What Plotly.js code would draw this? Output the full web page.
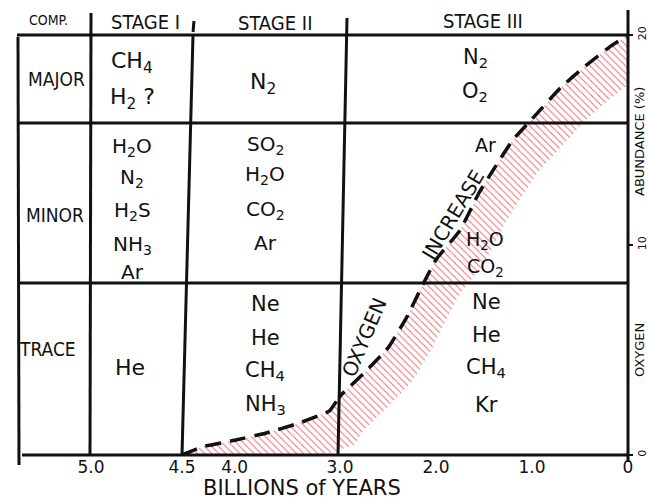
<!DOCTYPE html>
<html>
<head>
<meta charset="utf-8">
<script src="https://cdn.plot.ly/plotly-3.0.1.min.js"></script>
<style>
  html, body { margin: 0; padding: 0; background: #ffffff; }
  #chart { width: 648px; height: 501px; }
</style>
</head>
<body>
<div id="chart"></div>
<script>
// Evolution of the atmosphere: composition table by stage, with the oxygen curve

// ---- data ----
const stageNames = ['STAGE I', 'STAGE II', 'STAGE III'];
const rowNames = ['MAJOR', 'MINOR', 'TRACE'];

const stage1Major = ['CH<sub>4</sub>', 'H<sub>2</sub> ?'];
const stage1Minor = ['H<sub>2</sub>O', 'N<sub>2</sub>', 'H<sub>2</sub>S', 'NH<sub>3</sub>', 'Ar'];
const stage1Trace = ['He'];

const stage2Major = ['N<sub>2</sub>'];
const stage2Minor = ['SO<sub>2</sub>', 'H<sub>2</sub>O', 'CO<sub>2</sub>', 'Ar'];
const stage2Trace = ['Ne', 'He', 'CH<sub>4</sub>', 'NH<sub>3</sub>'];

const stage3Major = ['N<sub>2</sub>', 'O<sub>2</sub>'];
const stage3Minor = ['Ar', 'H<sub>2</sub>O', 'CO<sub>2</sub>'];
const stage3Trace = ['Ne', 'He', 'CH<sub>4</sub>', 'Kr'];

// oxygen abundance (%) against age (billions of years before present)
const ageGyr    = [4.5, 4.3, 4.0, 3.7, 3.4, 3.1, 3.0, 2.75, 2.5, 2.3, 2.15, 2.0, 1.75, 1.55, 1.4, 1.2, 1.0, 0.7, 0.45, 0.2, 0.0];
const oxygenPct = [0, 0.4, 0.7, 1.05, 1.5, 2.1, 2.8, 3.9, 5.1, 6.6, 8.0, 9.3, 10.7, 12.5, 13.6, 15.0, 16.0, 17.5, 18.5, 19.4, 20.0];

// x tick labels for each stage's axis segment
const stage1Ticks = [5.0];
const stage2Ticks = [4.5, 4.0];
const stage3Ticks = [3.0, 2.0, 1.0, 0];
const oxygenTicks = [0, 10, 20];

// ---- layout helpers (pixel frame of the plotting area) ----
const FRAME = { l: 20, r: 628, t: 35, b: 455 };
const W = 648, H = 501;
function px(x) { return (x - FRAME.l) / (FRAME.r - FRAME.l); }
function py(y) { return (FRAME.b - y) / (FRAME.b - FRAME.t); }

const INK = '#111111';
const HAND = "'DejaVu Sans', 'Liberation Sans', sans-serif";
const NARROW = "'Liberation Sans Narrow', 'DejaVu Sans Condensed', 'Liberation Sans', sans-serif";

// hatched band under the oxygen curve (offset of its lower edge)
const HATCH_DX = 0.25;
const HATCH_DY = 1.6;
const bandX = ageGyr.concat(ageGyr.slice().reverse().map(a => a - HATCH_DX));
const bandY = oxygenPct.concat(oxygenPct.slice().reverse().map(v => Math.max(0, v - HATCH_DY)));

const traces = [];
['x', 'x2', 'x3'].forEach(ax => {
  traces.push({
    type: 'scatter', mode: 'lines', xaxis: ax, yaxis: 'y',
    x: bandX, y: bandY, fill: 'toself',
    fillcolor: 'rgba(255,255,255,0)',
    fillpattern: { shape: '\\', fgcolor: '#e23a3f', fgopacity: 0.75, bgcolor: 'rgba(255,255,255,0)', size: 5, solidity: 0.2 },
    line: { width: 0, color: 'rgba(0,0,0,0)' },
    hoverinfo: 'skip', showlegend: false
  });
  traces.push({
    type: 'scatter', mode: 'lines', xaxis: ax, yaxis: 'y',
    x: ageGyr, y: oxygenPct,
    line: { color: INK, width: 3.5, dash: '16px,9px', shape: 'spline', smoothing: 0.4 },
    hoverinfo: 'skip', showlegend: false
  });
});

// ---- table rules ----
function rule(x0, y0, x1, y1, w) {
  return { type: 'line', xref: 'paper', yref: 'paper',
           x0: px(x0), y0: py(y0), x1: px(x1), y1: py(y1),
           line: { color: INK, width: w || 3 }, layer: 'above' };
}
const shapes = [
  rule(17, 35, 628, 35),
  rule(19, 123, 628, 123),
  rule(19, 283, 628, 283),
  rule(22, 455, 628, 455),
  rule(18, 37, 19, 465),
  rule(91, 13, 90, 455),
  rule(194, 21, 193, 32),
  rule(193, 35, 182, 455),
  rule(347, 18, 338, 455),
  rule(628, 10, 628, 462)
];

// ---- text ----
const annotations = [];
function label(text, x, y, size, family, angle) {
  annotations.push({
    text: text, xref: 'paper', yref: 'paper', x: px(x), y: py(y),
    xanchor: 'center', yanchor: 'middle', showarrow: false,
    textangle: angle || 0,
    font: { family: family || HAND, size: size, color: INK }
  });
}
function column(items, x, ys, size) {
  items.forEach((t, i) => label(t, x, ys[i], size));
}

// headers
label('COMP.', 48, 20, 14, NARROW);
label(stageNames[0], 145, 22, 20, NARROW);
label(stageNames[1], 275, 23, 20, NARROW);
label(stageNames[2], 483, 21, 20, NARROW);

// row names
label(rowNames[0], 56, 79, 19, NARROW);
label(rowNames[1], 55, 215, 19, NARROW);
label(rowNames[2], 47, 349, 19, NARROW);

// stage I
column(stage1Major, 132, [62, 98], 22);
column(stage1Minor, 132, [147, 178, 211, 245, 272], 20);
column(stage1Trace, 130, [367], 22);

// stage II
column(stage2Major, 263, [83], 22);
column(stage2Minor, 265, [145, 175, 210, 243], 20);
column(stage2Trace, 265, [304, 338, 371, 405], 21);

// stage III
column(stage3Major, 475, [58, 92], 21);
column(stage3Minor, 485, [145, 240, 267], 19);
column(stage3Trace, 486, [302, 335, 368, 405], 21);

// curve captions
label('OXYGEN', 364, 338, 20, HAND, -67);
label('INCREASE', 453, 215, 20, HAND, -59);

// axis titles
label('BILLIONS of YEARS', 302, 488, 21, HAND);
label('OXYGEN', 639, 350, 13, HAND, -90);
label('ABUNDANCE (%)', 639, 142, 13, HAND, -90);

function xAxis(lo, hi, ticks, d0, d1) {
  return {
    domain: [d0, d1], range: [lo, hi], anchor: 'y',
    tickmode: 'array', tickvals: ticks, ticktext: ticks.map(v => v === 0 ? '0' : v.toFixed(1)),
    ticks: '', showgrid: false, zeroline: false, showline: false,
    tickfont: { family: HAND, size: 17, color: INK }, fixedrange: true
  };
}

const layout = {
  width: W, height: H,
  margin: { l: FRAME.l, r: W - FRAME.r, t: FRAME.t, b: H - FRAME.b },
  paper_bgcolor: '#ffffff', plot_bgcolor: 'rgba(0,0,0,0)',
  showlegend: false,
  xaxis:  xAxis(5.0, 4.5, stage1Ticks, px(91), px(182)),
  xaxis2: xAxis(4.5, 3.0, stage2Ticks, px(182), px(340)),
  xaxis3: xAxis(3.0, 0.0, stage3Ticks, px(340), 1),
  yaxis: {
    range: [0, 20], anchor: 'x3', side: 'right',
    tickmode: 'array', tickvals: oxygenTicks, tickangle: -90,
    ticks: 'outside', ticklen: 4, tickwidth: 2.5, tickcolor: INK,
    showgrid: false, zeroline: false, showline: false,
    tickfont: { family: HAND, size: 11, color: INK }, fixedrange: true
  },
  shapes: shapes,
  annotations: annotations
};

Plotly.newPlot('chart', traces, layout, { staticPlot: true, displayModeBar: false });
</script>
</body>
</html>
